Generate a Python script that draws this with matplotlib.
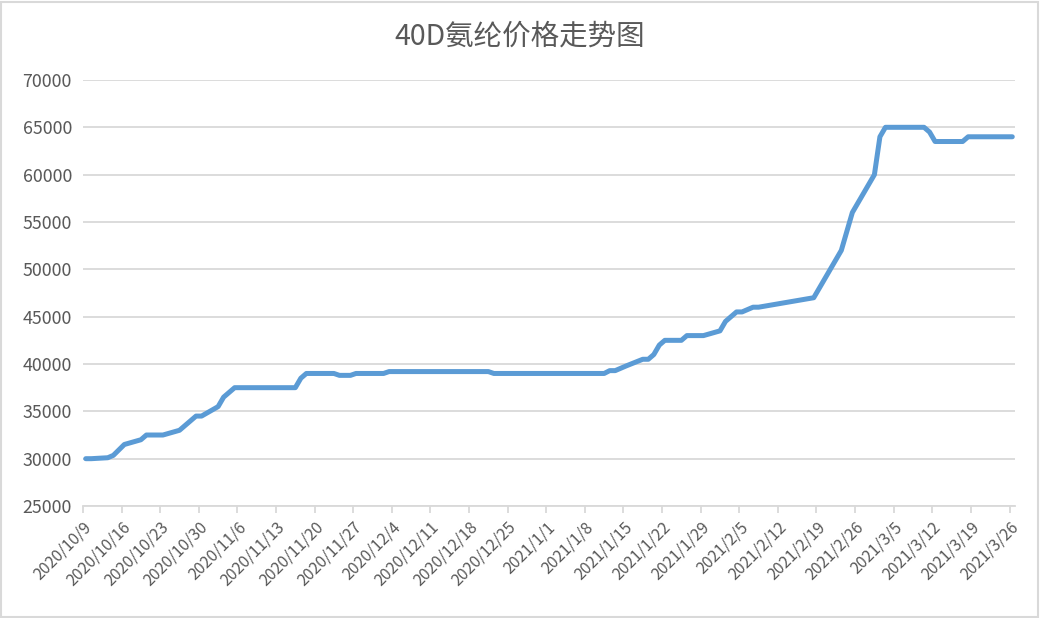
import numpy as np
import matplotlib.pyplot as plt
from matplotlib.patches import Rectangle

plt.rcParams['font.family'] = ['Noto Sans CJK SC', 'DejaVu Sans']

# breakpoints of the price line (date, price)
dates = ["2020-10-09", "2020-10-10", "2020-10-13", "2020-10-14", "2020-10-16",
         "2020-10-19", "2020-10-20", "2020-10-23", "2020-10-26", "2020-10-29",
         "2020-10-30", "2020-11-02", "2020-11-03", "2020-11-05", "2020-11-16",
         "2020-11-17", "2020-11-18", "2020-11-23", "2020-11-24", "2020-11-26",
         "2020-11-27", "2020-12-02", "2020-12-03", "2020-12-21", "2020-12-22",
         "2021-01-11", "2021-01-12", "2021-01-13", "2021-01-15", "2021-01-18",
         "2021-01-19", "2021-01-20", "2021-01-21", "2021-01-22", "2021-01-25",
         "2021-01-26", "2021-01-29", "2021-02-01", "2021-02-02", "2021-02-04",
         "2021-02-05", "2021-02-07", "2021-02-08", "2021-02-18", "2021-02-23",
         "2021-02-25", "2021-03-01", "2021-03-02", "2021-03-03", "2021-03-10",
         "2021-03-11", "2021-03-12", "2021-03-17", "2021-03-18", "2021-03-26"]
prices = [30000, 30000, 30100, 30350, 31500,
          32000, 32500, 32500, 33000, 34500,
          34500, 35500, 36500, 37500, 37500,
          38500, 39000, 39000, 38800, 38800,
          39000, 39000, 39200, 39200, 39000,
          39000, 39300, 39300, 39800, 40500,
          40500, 41000, 42000, 42500, 42500,
          43000, 43000, 43500, 44500, 45500,
          45500, 46000, 46000, 47000, 52000,
          56000, 60000, 64000, 65000, 65000,
          64500, 63500, 63500, 64000, 64000]

start = np.datetime64("2020-10-09")
tick_dates = np.arange(start, np.datetime64("2021-03-27"), 7)
tick_labels = ["%d/%d/%d" % (d.year, d.month, d.day) for d in tick_dates.astype(object)]

# Excel date axis: points sit in the middle of each day slot
x = (np.array(dates, dtype="datetime64[D]") - start).astype(int) + 0.5
tick_x = (tick_dates - start).astype(int)

fig = plt.figure(figsize=(10.4, 6.18), dpi=100)
ax = fig.add_axes([0.0798, 0.1812, 0.8962, 0.6894])

ax.plot(x, prices, color="#5b9bd5", lw=3.6, solid_joinstyle="round", solid_capstyle="round")

ax.set_xlim(0, 169)
ax.set_ylim(25000, 70000)
ax.set_yticks(range(25000, 70001, 5000))
ax.set_xticks(tick_x)
ax.set_xticklabels(tick_labels, rotation=45, ha="right", rotation_mode="anchor")

ax.grid(axis="y", color="#d9d9d9", lw=1.3)
ax.set_axisbelow(True)
for s in ["top", "right", "left"]:
    ax.spines[s].set_visible(False)
ax.spines["bottom"].set_color("#d9d9d9")
ax.spines["bottom"].set_linewidth(1.3)
ax.tick_params(axis="y", length=0, pad=8, labelsize=12.8, labelcolor="#595959")
ax.tick_params(axis="x", length=5, width=1.3, color="#d9d9d9", pad=4,
               labelsize=11.5, labelcolor="#595959")

fig.suptitle("40D氨纶价格走势图", y=0.965, fontsize=20.5, color="#595959")

fig.patches.append(Rectangle((0.001, 0.002), 0.997, 0.995, transform=fig.transFigure,
                             fill=False, edgecolor="#d9d9d9", lw=1.5))

fig.savefig("out.png")
